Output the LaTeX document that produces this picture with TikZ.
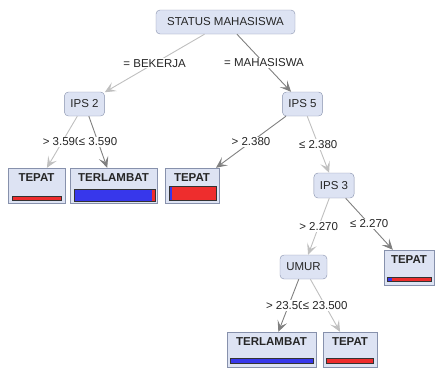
\documentclass[tikz,border=0pt]{standalone}
\usepackage{fontspec}
\setmainfont{Liberation Sans}
\usetikzlibrary{arrows.meta}
\definecolor{nodefill}{RGB}{221,227,243}
\definecolor{nodeline}{RGB}{135,145,172}
\definecolor{barred}{RGB}{238,45,45}
\definecolor{barblue}{RGB}{55,55,235}
\newcommand{\classbar}[5]{%
\fill[barblue] (#1,#4) rectangle (#2,#5);
\fill[barred] (#2,#4) rectangle (#3,#5);
\draw[black!80, line width=0.8pt] (#1,#4) rectangle (#3,#5);}

\begin{document}
\begin{tikzpicture}[x=1pt, y=-1pt, font=\fontsize{11.5}{13}\selectfont, text=black!85,
  split/.style={draw=nodeline, fill=nodefill, rounded corners=4pt, minimum height=24pt, inner xsep=6pt},
  leaf/.style={draw=nodeline, fill=nodefill, font=\fontsize{11.5}{13}\selectfont\bfseries, minimum height=35pt, text height=8.2pt, text depth=16.8pt, inner ysep=5pt, inner xsep=2pt},
  branch/.style={draw=black!25, line width=0.9pt, -{Stealth[length=11pt,width=10pt,inset=5pt]}},
  mainbranch/.style={branch, draw=black!50},
  cond/.style={midway, fill=white, inner sep=1pt}]
\useasboundingbox (0,0) rectangle (435,367);

\node[split, minimum width=139pt] (status) at (225.5,22) {STATUS MAHASISWA};
\node[split, minimum width=39pt] (ips2) at (84.5,104) {IPS 2};
\node[split, minimum width=39pt] (ips5) at (302.5,104) {IPS 5};
\node[split, minimum width=40pt, minimum height=25pt] (ips3) at (334,185.5) {IPS 3};
\node[split, minimum width=47pt] (umur) at (303.5,267) {UMUR};

\node[leaf, minimum width=57pt] (tepatA) at (36.5,185.5) {TEPAT};
\node[leaf, minimum width=87pt] (terlambatA) at (113.5,185.5) {TERLAMBAT};
\node[leaf, minimum width=54pt] (tepatB) at (192,185.5) {TEPAT};
\node[leaf, minimum width=50pt] (tepatC) at (409,267.5) {TEPAT};
\node[leaf, minimum width=89pt] (terlambatB) at (271.5,349.5) {TERLAMBAT};
\node[leaf, minimum width=54pt] (tepatD) at (350,349.5) {TEPAT};

\classbar{12}{12}{61}{196}{200}
\classbar{74}{152}{155}{189}{201}
\classbar{169}{172}{216}{186}{200}
\classbar{387}{392}{431}{277.5}{281.5}
\classbar{230}{313}{313}{358}{363}
\classbar{326}{326}{373}{358}{363}

\draw[branch] (status) -- (ips2) node[cond]{= BEKERJA};
\draw[mainbranch] (status) -- (ips5) node[cond]{= MAHASISWA};
\draw[branch] (ips2) -- (tepatA) node[cond]{> 3.590};
\draw[mainbranch] (ips2) -- (terlambatA) node[cond]{≤ 3.590};
\draw[mainbranch] (ips5) -- (tepatB) node[cond]{> 2.380};
\draw[branch] (ips5) -- (ips3) node[cond]{≤ 2.380};
\draw[branch] (ips3) -- (umur) node[cond]{> 2.270};
\draw[mainbranch] (ips3) -- (tepatC) node[cond]{≤ 2.270};
\draw[mainbranch] (umur) -- (terlambatB) node[cond]{> 23.500};
\draw[branch] (umur) -- (tepatD) node[cond]{≤ 23.500};
\end{tikzpicture}
\end{document}
